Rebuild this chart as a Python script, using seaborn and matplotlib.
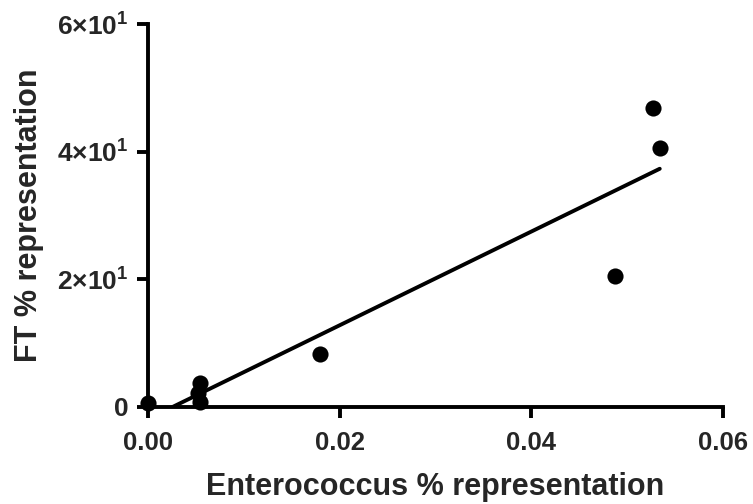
import matplotlib
matplotlib.use("Agg")
import matplotlib.pyplot as plt
import seaborn as sns
import pandas as pd
from matplotlib.ticker import FixedLocator

enterococcus = [0.0, 0.0054, 0.0052, 0.0054, 0.0179, 0.0487, 0.0527, 0.0534]
ft = [0.6, 3.7, 2.2, 0.8, 8.3, 20.6, 46.8, 40.5]
x_ticks = [0.0, 0.02, 0.04, 0.06]
x_tick_labels = ["0.00", "0.02", "0.04", "0.06"]
y_ticks = [0, 20, 40, 60]
y_tick_labels = ["0", "2\u00d710$^{1}$", "4\u00d710$^{1}$", "6\u00d710$^{1}$"]

df = pd.DataFrame({"x": enterococcus, "y": ft})

sns.set_style("white")
plt.rcParams["font.family"] = ["Liberation Sans", "DejaVu Sans"]
plt.rcParams["mathtext.fontset"] = "custom"
plt.rcParams["mathtext.rm"] = "Liberation Sans:bold"
plt.rcParams["mathtext.default"] = "rm"

fig = plt.figure(figsize=(7.53, 5.04), dpi=100)
ax = fig.add_axes([148 / 753, 1 - 407 / 504, (723 - 148) / 753, (407 - 24) / 504])

sns.regplot(data=df, x="x", y="y", ax=ax, ci=None, truncate=True,
            scatter_kws=dict(s=135, color="black", alpha=1, linewidths=0, clip_on=False, zorder=5),
            line_kws=dict(color="black", lw=2.8))

ax.set_xlim(0, 0.06)
ax.set_ylim(0, 60)
ax.xaxis.set_major_locator(FixedLocator(x_ticks))
ax.set_xticklabels(x_tick_labels)
ax.yaxis.set_major_locator(FixedLocator(y_ticks))
ax.set_yticklabels(y_tick_labels)

for s in ["top", "right"]:
    ax.spines[s].set_visible(False)
for s in ["left", "bottom"]:
    ax.spines[s].set_linewidth(2.8)
    ax.spines[s].set_color("black")

ax.tick_params(axis="both", which="major", direction="out", length=8, width=2.8,
               color="black", left=True, bottom=True)
ax.tick_params(axis="x", labelsize=18.5, pad=9.5)
ax.tick_params(axis="y", labelsize=19, pad=6)
for lab in ax.get_xticklabels() + ax.get_yticklabels():
    lab.set_fontweight("bold")

ax.set_xlabel("Enterococcus % representation", fontsize=22, fontweight="bold")
ax.set_ylabel("FT % representation", fontsize=22, fontweight="bold")
ax.xaxis.set_label_coords(435 / 753, 1 - 495 / 504, transform=fig.transFigure)
ax.xaxis.label.set_va("baseline")
ax.yaxis.set_label_coords(37 / 753, 1 - 215 / 504, transform=fig.transFigure)
ax.yaxis.label.set_va("baseline")

fig.savefig("out.png", dpi=100)
